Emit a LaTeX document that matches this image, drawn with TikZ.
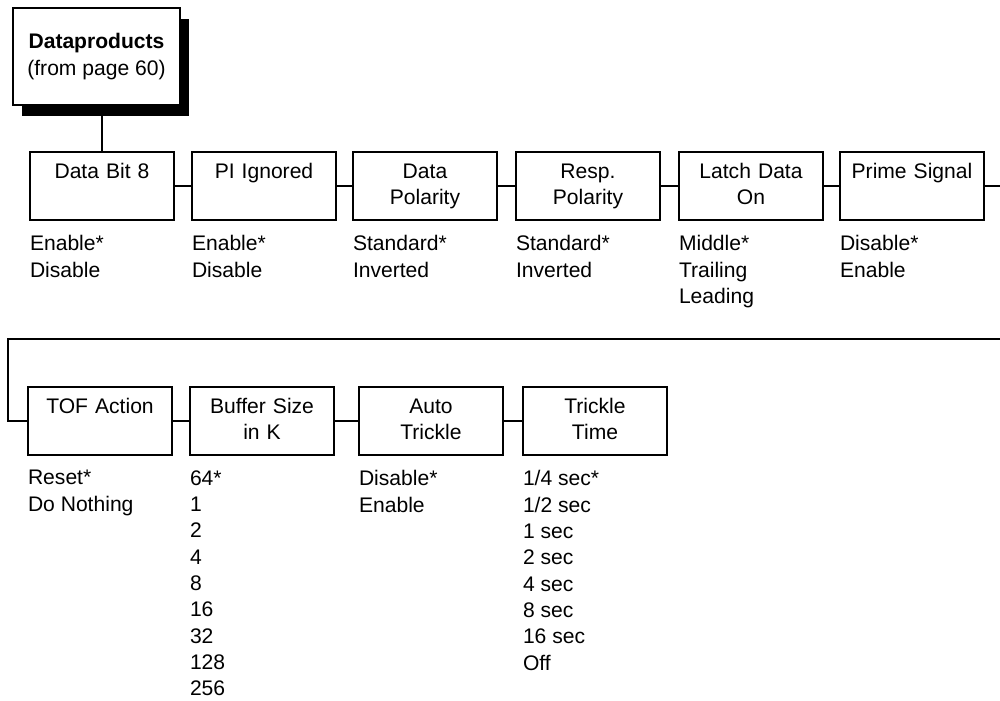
\documentclass[tikz,border=0pt]{standalone}
\usepackage{fontspec}
\setmainfont{Liberation Sans}
\usetikzlibrary{positioning, shadows}

\begin{document}
\begin{tikzpicture}[
  x=0.02cm, y=-0.02cm,
  font=\fontsize{12}{15}\selectfont,
  line width=1.1pt,
  menubox/.style={rectangle, draw, fill=white,
                  minimum width=3.34cm, minimum height=1.94cm,
                  align=center, inner sep=0pt,
                  drop shadow={shadow xshift=0.18cm, shadow yshift=-0.22cm,
                               fill=black, opacity=1}},
  itembox/.style={rectangle, draw, fill=white,
                  minimum width=2.88cm, minimum height=1.36cm,
                  text width=2.8cm, align=center, inner sep=0pt,
                  execute at begin node=\strut, execute at end node=\strut},
  opts/.style={align=left, inner sep=0pt, anchor=north west},
]
\useasboundingbox (0,0) rectangle (1000,700);

%% --- menu d'entree ---
\node[menubox] (dp) at (96.5, 56.5) {\textbf{Dataproducts}\\(from page 60)};

%% --- premiere rangee ---
\node[itembox] (db8) at (102, 186) {Data Bit 8\\\mbox{}};
\node[itembox] (pii) at (264, 186) {PI Ignored\\\mbox{}};
\node[itembox] (dpol) at (425, 186) {Data\\Polarity};
\node[itembox] (rpol) at (588, 186) {Resp.\\Polarity};
\node[itembox] (ldo) at (751, 186) {Latch Data\\On};
\node[itembox] (pri) at (912, 186) {Prime Signal\\\mbox{}};

\node[opts] (db8o) at ([yshift=-0.27cm]db8.south west) {Enable*\\Disable};
\node[opts] (piio) at ([yshift=-0.27cm]pii.south west) {Enable*\\Disable};
\node[opts] (dpolo) at ([yshift=-0.27cm]dpol.south west) {Standard*\\Inverted};
\node[opts] (rpolo) at ([yshift=-0.27cm]rpol.south west) {Standard*\\Inverted};
\node[opts] (ldoo) at ([yshift=-0.27cm]ldo.south west) {Middle*\\Trailing\\Leading};
\node[opts] (prio) at ([yshift=-0.27cm]pri.south west) {Disable*\\Enable};

%% --- deuxieme rangee ---
\node[itembox] (tof) at (100, 421) {TOF Action\\\mbox{}};
\node[itembox] (buf) at (262, 421) {Buffer Size\\in K};
\node[itembox] (atr) at (431, 421) {Auto\\Trickle};
\node[itembox] (ttm) at (595, 421) {Trickle\\Time};

\node[opts] (tofo) at ([yshift=-0.27cm]tof.south west) {Reset*\\Do Nothing};
\node[opts] (bufo) at ([yshift=-0.27cm]buf.south west)
  {64*\\1\\2\\4\\8\\16\\32\\128\\256};
\node[opts] (atro) at ([yshift=-0.27cm]atr.south west) {Disable*\\Enable};
\node[opts] (ttmo) at ([yshift=-0.27cm]ttm.south west)
  {1/4 sec*\\1/2 sec\\1 sec\\2 sec\\4 sec\\8 sec\\16 sec\\Off};

%% --- liaisons ---
\coordinate (endR) at (1000, 186);
\coordinate (wrapR) at (1000, 339);
\coordinate (wrapL) at (8, 339);

\draw (db8.north) -- (db8.north |- dp.south);
\draw (db8) -- (pii);
\draw (pii) -- (dpol);
\draw (dpol) -- (rpol);
\draw (rpol) -- (ldo);
\draw (ldo) -- (pri);
\draw (pri) -- (endR);
\draw (wrapR) -- (wrapL) |- (tof.west);
\draw (tof) -- (buf);
\draw (buf) -- (atr);
\draw (atr) -- (ttm);
\end{tikzpicture}
\end{document}
